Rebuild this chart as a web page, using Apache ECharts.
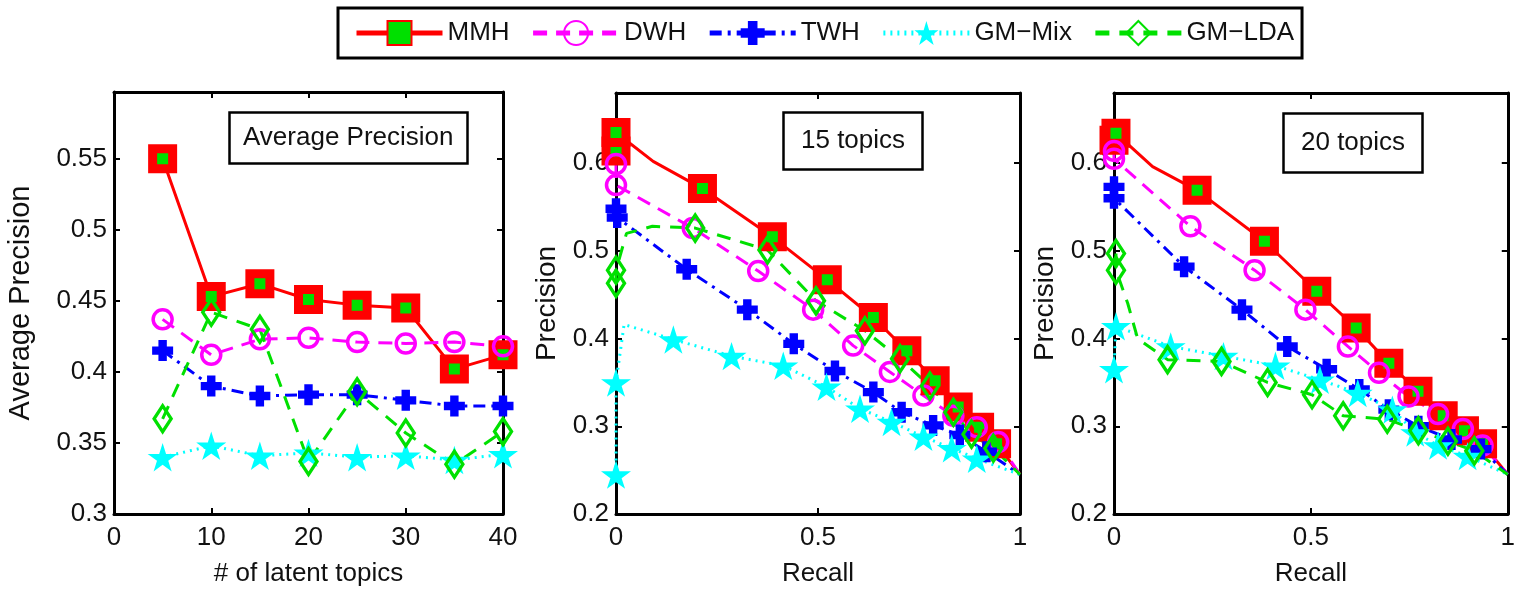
<!DOCTYPE html>
<html><head><meta charset="utf-8">
<script src="https://cdn.jsdelivr.net/npm/echarts@6/dist/echarts.min.js"></script>
<style>html,body{margin:0;padding:0;background:#fff}#c{width:1518px;height:592px}</style>
</head><body><div id="c"></div>
<script>
// ---------- data ----------
const seriesNames = ['MMH', 'DWH', 'TWH', 'GM\u2212Mix', 'GM\u2212LDA'];
const panelTitles = ['Average Precision', '15 topics', '20 topics'];

// panel 1: average precision vs # of latent topics
const topics = [5, 10, 15, 20, 25, 30, 35, 40];
const apMMH = [0.550, 0.453, 0.462, 0.451, 0.447, 0.445, 0.402, 0.412];
const apDWH = [0.437, 0.412, 0.423, 0.424, 0.421, 0.420, 0.421, 0.418];
const apTWH = [0.415, 0.390, 0.383, 0.384, 0.384, 0.380, 0.376, 0.376];
const apMix = [0.340, 0.348, 0.341, 0.343, 0.340, 0.341, 0.338, 0.342];
const apLDA = [0.367, 0.442, 0.430, 0.337, 0.386, 0.357, 0.335, 0.358];

// panel 2: precision-recall, 15 topics  ([recall, precision])
const pr15MMH = [[0, 0.614], [0, 0.635], [0.092, 0.602], [0.214, 0.571], [0.387, 0.516], [0.523, 0.467], [0.637, 0.424], [0.72, 0.386], [0.79, 0.352], [0.847, 0.322], [0.90, 0.299], [0.942, 0.280], [1, 0.245]];
const pr15DWH = [[0, 0.599], [0, 0.575], [0.19, 0.526], [0.352, 0.477], [0.488, 0.433], [0.587, 0.392], [0.678, 0.362], [0.761, 0.335], [0.835, 0.312], [0.893, 0.299], [0.946, 0.282], [1, 0.245]];
const pr15TWH = [[0, 0.548], [0.003, 0.538], [0.175, 0.479], [0.325, 0.433], [0.44, 0.394], [0.542, 0.363], [0.637, 0.339], [0.707, 0.316], [0.785, 0.301], [0.851, 0.290], [0.917, 0.271], [1, 0.245]];
const pr15Mix = [[0, 0.245], [0, 0.350], [0.02, 0.416], [0.142, 0.399], [0.286, 0.380], [0.414, 0.369], [0.521, 0.345], [0.604, 0.320], [0.682, 0.305], [0.761, 0.288], [0.831, 0.275], [0.893, 0.263], [1, 0.245]];
const pr15LDA = [[0, 0.463], [0, 0.478], [0.026, 0.520], [0.09, 0.528], [0.196, 0.526], [0.375, 0.501], [0.495, 0.443], [0.616, 0.409], [0.703, 0.377], [0.777, 0.346], [0.835, 0.316], [0.88, 0.291], [0.934, 0.275], [1, 0.245]];

// panel 3: precision-recall, 20 topics
const pr20MMH = [[0, 0.626], [0.005, 0.634], [0.098, 0.596], [0.211, 0.569], [0.382, 0.511], [0.515, 0.454], [0.615, 0.412], [0.698, 0.372], [0.772, 0.340], [0.836, 0.312], [0.89, 0.295], [0.936, 0.280], [1, 0.245]];
const pr20DWH = [[0, 0.614], [0, 0.605], [0.194, 0.528], [0.357, 0.478], [0.486, 0.433], [0.594, 0.391], [0.673, 0.361], [0.748, 0.334], [0.823, 0.314], [0.886, 0.297], [0.936, 0.278], [1, 0.245]];
const pr20TWH = [[0, 0.573], [0, 0.560], [0.178, 0.482], [0.325, 0.433], [0.44, 0.391], [0.54, 0.365], [0.623, 0.342], [0.698, 0.319], [0.773, 0.300], [0.857, 0.285], [0.932, 0.274], [1, 0.245]];
const pr20Mix = [[0, 0.365], [0.005, 0.414], [0.144, 0.391], [0.278, 0.380], [0.41, 0.369], [0.523, 0.353], [0.619, 0.338], [0.707, 0.319], [0.765, 0.293], [0.823, 0.278], [0.898, 0.266], [1, 0.245]];
const pr20LDA = [[0.005, 0.497], [0.005, 0.478], [0.035, 0.440], [0.06, 0.400], [0.136, 0.376], [0.273, 0.374], [0.39, 0.350], [0.503, 0.336], [0.582, 0.312], [0.694, 0.308], [0.773, 0.295], [0.848, 0.283], [0.915, 0.272], [1, 0.245]];

// indices of points that are only line vertices (no marker drawn)
const lineOnly15 = { MMH: [2, 12], DWH: [11], TWH: [11], Mix: [2, 12], LDA: [2, 3, 13] };
const lineOnly20 = { MMH: [2, 12], DWH: [11], TWH: [11], Mix: [11], LDA: [2, 3, 13] };

// ---------- styles ----------
const FONT = 'Liberation Sans, Arial, Helvetica, sans-serif';
const starPath = 'path://M50,0 L61,35 L98,35 L68,57 L79,91 L50,70 L21,91 L32,57 L2,35 L39,35 Z';
const plusPath = 'path://M6,0 H14 V6 H20 V14 H14 V20 H6 V14 H0 V6 H6 Z';
const styles = [
  { symbol: 'rect', symbolSize: 20, itemStyle: { color: '#00e000', borderColor: '#ff0000', borderWidth: 9 }, lineStyle: { color: '#ff0000', width: 3, type: 'solid' } },
  { symbol: 'circle', symbolSize: 19, itemStyle: { color: 'rgba(255,255,255,0)', borderColor: '#ff00ff', borderWidth: 3.5 }, lineStyle: { color: '#ff00ff', width: 3, type: [14, 9] } },
  { symbol: plusPath, symbolSize: 21, itemStyle: { color: '#0000ff' }, lineStyle: { color: '#0000ff', width: 3, type: [12, 6, 3, 6] } },
  { symbol: starPath, symbolSize: 30, itemStyle: { color: '#00ffff' }, lineStyle: { color: '#00ffff', width: 3, type: [2, 5] } },
  { symbol: 'diamond', symbolSize: [17, 26], itemStyle: { color: 'rgba(255,255,255,0)', borderColor: '#00e000', borderWidth: 3.5 }, lineStyle: { color: '#00e000', width: 3, type: [14, 10] } }
];

function items(pairs, skip) {
  return pairs.map((p, i) => (skip && skip.indexOf(i) >= 0) ? { value: p, symbol: 'none' } : { value: p });
}
function mkSeries(k, gi, data) {
  const s = styles[k];
  return {
    type: 'line', name: seriesNames[k], xAxisIndex: gi * 2, yAxisIndex: gi * 2,
    data: data, symbol: s.symbol, symbolSize: s.symbolSize, symbolKeepAspect: true,
    itemStyle: s.itemStyle, lineStyle: s.lineStyle, showAllSymbol: true,
    emphasis: { disabled: true }, animation: false, clip: false
  };
}

const grids = [
  { left: 114, top: 92, width: 389, height: 425 },
  { left: 616, top: 93, width: 404, height: 423 },
  { left: 1114, top: 93, width: 400, height: 422 }
];
const xCfg = [
  { min: 0, max: 40, interval: 10, name: '# of latent topics' },
  { min: 0, max: 1, interval: 0.5, name: 'Recall' },
  { min: 0, max: 1, interval: 0.5, name: 'Recall' }
];
const yCfg = [
  { min: 0.3, max: 0.597, interval: 0.05, name: 'Average Precision', gap: 79, size: 29 },
  { min: 0.2, max: 0.68, interval: 0.1, name: 'Precision', gap: 55, size: 28 },
  { min: 0.2, max: 0.68, interval: 0.1, name: 'Precision', gap: 55, size: 28 }
];
const axisLine = { show: true, onZero: false, lineStyle: { color: '#000', width: 3 } };
const axisTick = { show: true, inside: true, length: 6, lineStyle: { color: '#000', width: 2 } };
const xAxes = [], yAxes = [];
grids.forEach((g, i) => {
  const xc = xCfg[i], yc = yCfg[i];
  xAxes.push({ type: 'value', gridIndex: i, position: 'bottom', min: xc.min, max: xc.max, interval: xc.interval,
    name: xc.name, nameLocation: 'middle', nameGap: 47, nameTextStyle: { fontSize: 26, color: '#111', fontFamily: FONT },
    axisLine, axisTick, splitLine: { show: false },
    axisLabel: { fontSize: 26, color: '#111', fontFamily: FONT, margin: 11 } });
  xAxes.push({ type: 'value', gridIndex: i, position: 'top', min: xc.min, max: xc.max, interval: xc.interval,
    axisLine, axisTick, splitLine: { show: false }, axisLabel: { show: false } });
  yAxes.push({ type: 'value', gridIndex: i, position: 'left', min: yc.min, max: yc.max, interval: yc.interval,
    name: yc.name, nameLocation: 'middle', nameGap: yc.gap, nameRotate: 90,
    nameTextStyle: { fontSize: yc.size, color: '#111', fontFamily: FONT },
    axisLine, axisTick, splitLine: { show: false },
    axisLabel: { fontSize: 26, color: '#111', fontFamily: FONT, margin: 7, showMaxLabel: false } });
  yAxes.push({ type: 'value', gridIndex: i, position: 'right', min: yc.min, max: yc.max, interval: yc.interval,
    axisLine, axisTick, splitLine: { show: false }, axisLabel: { show: false } });
});

const pair = (xs, ys) => xs.map((x, i) => [x, ys[i]]);
const series = [
  mkSeries(0, 0, items(pair(topics, apMMH))),
  mkSeries(1, 0, items(pair(topics, apDWH))),
  mkSeries(2, 0, items(pair(topics, apTWH))),
  mkSeries(3, 0, items(pair(topics, apMix))),
  mkSeries(4, 0, items(pair(topics, apLDA))),
  mkSeries(0, 1, items(pr15MMH, lineOnly15.MMH)),
  mkSeries(1, 1, items(pr15DWH, lineOnly15.DWH)),
  mkSeries(2, 1, items(pr15TWH, lineOnly15.TWH)),
  mkSeries(3, 1, items(pr15Mix, lineOnly15.Mix)),
  mkSeries(4, 1, items(pr15LDA, lineOnly15.LDA)),
  mkSeries(0, 2, items(pr20MMH, lineOnly20.MMH)),
  mkSeries(1, 2, items(pr20DWH, lineOnly20.DWH)),
  mkSeries(2, 2, items(pr20TWH, lineOnly20.TWH)),
  mkSeries(3, 2, items(pr20Mix, lineOnly20.Mix)),
  mkSeries(4, 2, items(pr20LDA, lineOnly20.LDA))
];

const titleBoxes = [
  { left: 229, top: 112, padding: [13, 14, 13, 14] },
  { left: 783, top: 112, padding: [16, 18, 16, 18] },
  { left: 1283, top: 113, padding: [17, 18, 17, 18] }
];
const titles = titleBoxes.map((b, i) => ({
  text: panelTitles[i], left: b.left, top: b.top, padding: b.padding,
  borderColor: '#000', borderWidth: 2.5, backgroundColor: '#fff',
  textStyle: { fontSize: 26, fontWeight: 'normal', color: '#111', fontFamily: FONT }
}));

const chart = echarts.init(document.getElementById('c'), null, { renderer: 'canvas' });
chart.setOption({
  animation: false,
  backgroundColor: '#fff',
  title: titles,
  legend: {
    data: seriesNames, left: 338, top: 8, orient: 'horizontal',
    padding: [12, 8, 12, 16], itemWidth: 86, itemHeight: 30, itemGap: 21,
    borderColor: '#000', borderWidth: 3, selectedMode: false,
    lineStyle: { width: 5 },
    textStyle: { fontSize: 26, color: '#111', fontFamily: FONT }
  },
  grid: grids,
  xAxis: xAxes,
  yAxis: yAxes,
  series: series
});
</script>
</body></html>
